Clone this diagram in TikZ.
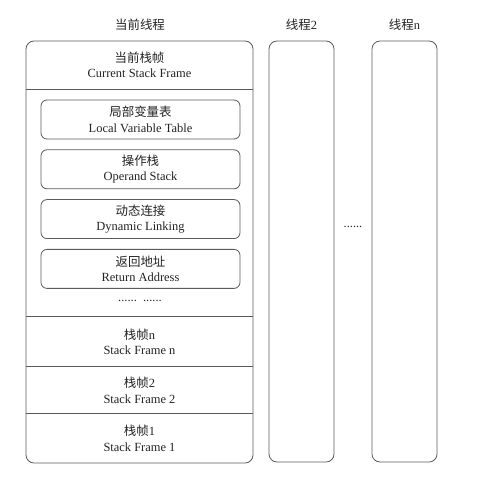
\documentclass[tikz,border=0pt]{standalone}
\usepackage{fontspec}
\setmainfont{Liberation Serif}
\newfontfamily\cjk{Noto Sans CJK SC}
\usetikzlibrary{positioning}
\usepackage{xcolor}
\definecolor{frameline}{RGB}{90,90,90}
\definecolor{labelink}{RGB}{35,35,35}

\begin{document}
\begin{tikzpicture}[x=1bp, y=-1bp, font=\fontsize{12.5}{15.5}\selectfont, text=labelink,
    thread/.style={draw=frameline, line width=0.8pt, rounded corners=8bp,
                   inner sep=0pt},
    slot/.style={draw=frameline, line width=0.8pt, rounded corners=6bp,
                 minimum width=199bp, minimum height=39bp, align=center,
                 inner sep=0pt},
    framerow/.style={minimum width=227bp, inner sep=0pt, align=center},
    divider/.style={frameline, line width=0.8pt},
]
\useasboundingbox (0,0) rectangle (493,493);

% ─── Thread titles ────────────────────────────────────────────────
\node (tcur) at (140, 25) {\cjk 当前线程};
\node (t2)   at (301.5, 25) {{\cjk 线程}2};
\node (tn)   at (404.5, 25) {{\cjk 线程}n};

% ─── Thread boxes ────────────────────────────────────────────────
\node[thread, minimum width=227bp, minimum height=422bp] (cur) at (139.5, 252) {};
\node[thread, minimum width=65bp, minimum height=421bp]  (th2) at (301.5, 251.5) {};
\node[thread, minimum width=65bp, minimum height=421bp]  (thn) at (404.5, 251.5) {};

\node (gap) at (353, 227) {......};

% ─── Current stack frame ─────────────────────────────────────────
\node[framerow, minimum height=48bp] (top) at (139.5, 65)
  {{\cjk 当前栈帧}\\Current Stack Frame};
\draw[divider] (top.south west) -- (top.south east);

% parts of the current frame, stacked 10bp apart
\node[slot] (locals) at (140.5, 119.5) {{\cjk 局部变量表}\\Local Variable Table};
\node[slot, below=10bp of locals] (operand) {{\cjk 操作栈}\\Operand Stack};
\node[slot, below=10bp of operand] (dynlink) {{\cjk 动态连接}\\Dynamic Linking};
\node[slot, below=10bp of dynlink] (retaddr) {{\cjk 返回地址}\\Return Address};

\node (more) at (140, 301) {......\ \ ......};

% ─── Older frames ────────────────────────────────────────────────
\node[framerow, minimum height=50bp] (fn) at (139.5, 342) {{\cjk 栈帧}n\\Stack Frame n};
\node[framerow, minimum height=47bp] (f2) at (139.5, 390.5) {{\cjk 栈帧}2\\Stack Frame 2};
\node[framerow, minimum height=49bp] (f1) at (139.5, 438.5) {{\cjk 栈帧}1\\Stack Frame 1};

\draw[divider] (fn.north west) -- (fn.north east);
\draw[divider] (f2.north west) -- (f2.north east);
\draw[divider] (f1.north west) -- (f1.north east);

\end{tikzpicture}
\end{document}
